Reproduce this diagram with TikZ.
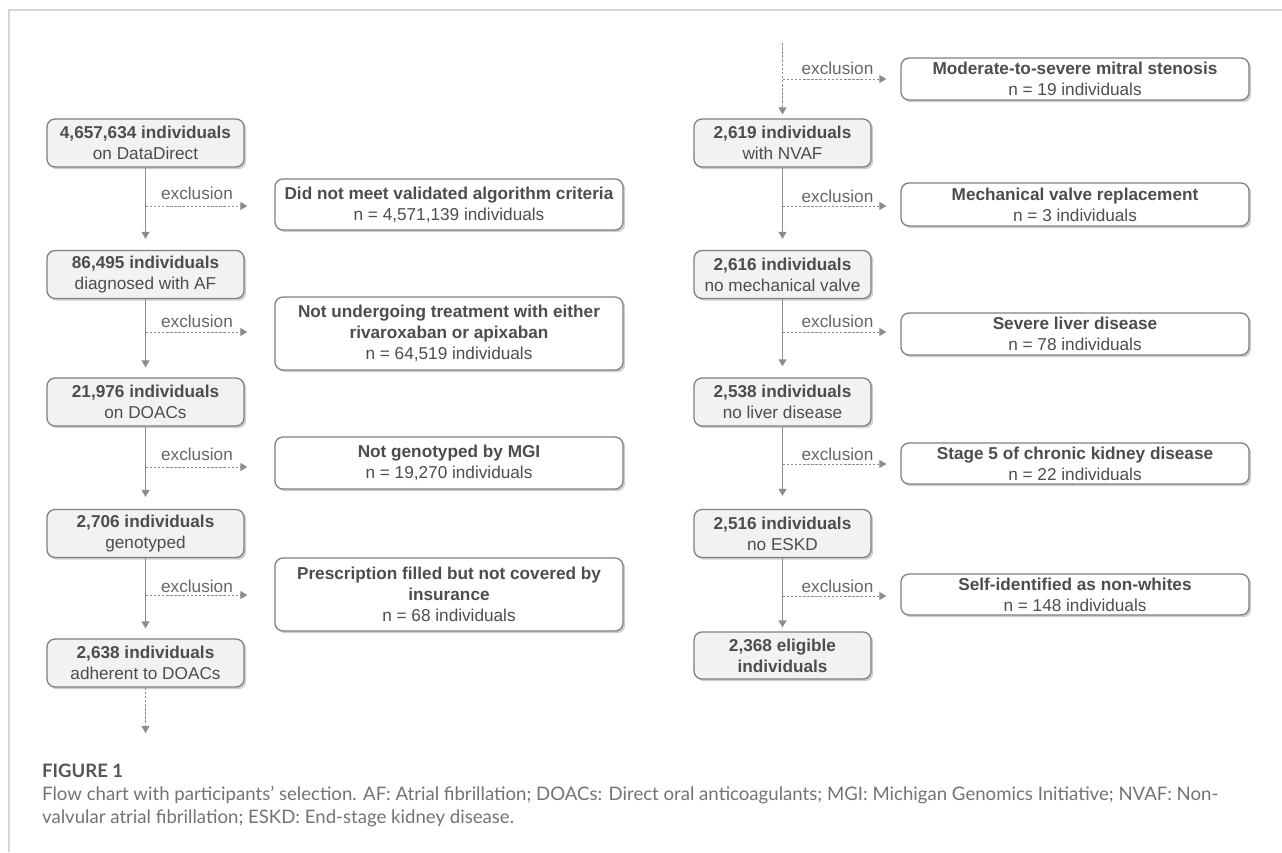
\documentclass[tikz,border=0pt]{standalone}
\usepackage{fontspec}
\setmainfont{Liberation Sans}
\newfontfamily\capfont{Lato}
\usetikzlibrary{arrows.meta,shadows}
\definecolor{boxline}{HTML}{808080}
\definecolor{boxfill}{HTML}{F2F2F2}
\definecolor{txt}{HTML}{4D4D4D}
\definecolor{lbl}{HTML}{666666}
\definecolor{arr}{HTML}{8C8C8C}
\definecolor{framec}{HTML}{D6D6D6}
\definecolor{captxt}{HTML}{737373}
\definecolor{capttl}{HTML}{555555}
\newsavebox\capboxa
\begin{document}
\sbox\capboxa{\capfont\fontsize{16}{16}\selectfont\color{captxt}Flow chart with participants’ selection. AF: Atrial fibrillation; DOACs: Direct oral anticoagulants; MGI: Michigan Genomics Initiative; NVAF: Non-}%
\pgfmathsetmacro\capscale{1176/\the\wd\capboxa}%
\begin{tikzpicture}[x=1pt,y=-1pt,
  every node/.style={font=\fontsize{17.2}{21}\selectfont, text=txt},
  basebox/.style={draw=boxline, line width=1.3pt, rounded corners=8pt, align=center, inner sep=0pt,
    drop shadow={shadow xshift=2.2pt, shadow yshift=-2.2pt, opacity=0.35, fill=black!55}},
  flowbox/.style={basebox, fill=boxfill, minimum height=48pt},
  leftflow/.style={flowbox, minimum width=197pt},
  rightflow/.style={flowbox, minimum width=177pt},
  exbox/.style={basebox, fill=white, minimum width=348pt},
  exlabel/.style={text=lbl, inner sep=0pt},
  flowarrow/.style={draw=arr, line width=1.3pt, -{Triangle[length=7pt,width=8pt]}, shorten >=11pt},
  exarrow/.style={draw=arr, line width=0.9pt, dash pattern=on 2.5pt off 1.6pt, -{Triangle[length=7pt,width=8pt]}},
  capstyle/.style={anchor=west, inner sep=0pt}
]
\useasboundingbox (0,0) rectangle (1282,852);
% frame
\draw[framec, line width=1.5pt] (1282,10) -- (9,10) -- (9,852);

% left column
\node[leftflow] (a1) at (145.5,143) {\textbf{4,657,634 individuals}\\on DataDirect};
\node[leftflow] (a2) at (145.5,274.5) {\textbf{86,495 individuals}\\diagnosed with AF};
\node[leftflow] (a3) at (145.5,402) {\textbf{21,976 individuals}\\on DOACs};
\node[leftflow] (a4) at (145.5,533.5) {\textbf{2,706 individuals}\\genotyped};
\node[leftflow] (a5) at (145.5,663) {\textbf{2,638 individuals}\\adherent to DOACs};

\node[exbox, minimum height=51pt] (e1) at (449,204.5) {\textbf{Did not meet validated algorithm criteria}\\n = 4,571,139 individuals};
\node[exbox, minimum height=73pt] (e2) at (449,333.5) {\textbf{Not undergoing treatment with either}\\\textbf{rivaroxaban or apixaban}\\n = 64,519 individuals};
\node[exbox, minimum height=52pt] (e3) at (449,463) {\textbf{Not genotyped by MGI}\\n = 19,270 individuals};
\node[exbox, minimum height=73pt] (e4) at (449,594.5) {\textbf{Prescription filled but not covered by}\\\textbf{insurance}\\n = 68 individuals};

\draw[flowarrow] (a1) -- (a2);
\draw[flowarrow, shorten >=10pt] (a2) -- (a3);
\draw[flowarrow, shorten >=12pt] (a3) -- (a4);
\draw[flowarrow, shorten >=10pt] (a4) -- (a5);

\coordinate (j1) at (145.5,206);
\coordinate (j2) at (145.5,332);
\coordinate (j3) at (145.5,467);
\coordinate (j4) at (145.5,595);
\draw[exarrow, shorten >=27pt] (j1) -- (j1 -| e1.west);
\draw[exarrow, shorten >=27pt] (j2) -- (j2 -| e2.west);
\draw[exarrow, shorten >=27pt] (j3) -- (j3 -| e3.west);
\draw[exarrow, shorten >=27pt] (j4) -- (j4 -| e4.west);
\node[exlabel] (l1) at (197,193) {exclusion};
\node[exlabel] (l2) at (197,321) {exclusion};
\node[exlabel] (l3) at (197,454) {exclusion};
\node[exlabel] (l4) at (197,586) {exclusion};

\coordinate (bot) at (145.5,733);
\draw[exarrow] (a5) -- (bot);

% right column
\node[rightflow] (b1) at (782.5,143) {\textbf{2,619 individuals}\\with NVAF};
\node[rightflow] (b2) at (782.5,274.5) {\textbf{2,616 individuals}\\no mechanical valve};
\node[rightflow] (b3) at (782.5,402) {\textbf{2,538 individuals}\\no liver disease};
\node[rightflow] (b4) at (782.5,533.5) {\textbf{2,516 individuals}\\no ESKD};
\node[rightflow, minimum height=47pt] (b5) at (782.5,655.5) {\textbf{2,368 eligible}\\\textbf{individuals}};

\node[exbox, minimum height=42pt] (e5) at (1075,79) {\textbf{Moderate-to-severe mitral stenosis}\\n = 19 individuals};
\node[exbox, minimum height=43pt] (e6) at (1075,204.5) {\textbf{Mechanical valve replacement}\\n = 3 individuals};
\node[exbox, minimum height=42pt] (e7) at (1075,334) {\textbf{Severe liver disease}\\n = 78 individuals};
\node[exbox, minimum height=41pt] (e8) at (1075,463.5) {\textbf{Stage 5 of chronic kidney disease}\\n = 22 individuals};
\node[exbox, minimum height=41pt] (e9) at (1075,594.5) {\textbf{Self-identified as non-whites}\\n = 148 individuals};

\coordinate (top) at (782.5,43);
\draw[exarrow, shorten >=4pt] (top) -- (b1);
\draw[flowarrow] (b1) -- (b2);
\draw[flowarrow] (b2) -- (b3);
\draw[flowarrow, shorten >=13pt] (b3) -- (b4);
\draw[flowarrow, shorten >=4pt] (b4) -- (b5);

\coordinate (k1) at (782.5,79);
\coordinate (k2) at (782.5,206);
\coordinate (k3) at (782.5,332);
\coordinate (k4) at (782.5,464);
\coordinate (k5) at (782.5,596);
\draw[exarrow, shorten >=14pt] (k1) -- (k1 -| e5.west);
\draw[exarrow, shorten >=14pt] (k2) -- (k2 -| e6.west);
\draw[exarrow, shorten >=14pt] (k3) -- (k3 -| e7.west);
\draw[exarrow, shorten >=14pt] (k4) -- (k4 -| e8.west);
\draw[exarrow, shorten >=14pt] (k5) -- (k5 -| e9.west);
\node[exlabel] (m1) at (837.5,68) {exclusion};
\node[exlabel] (m2) at (837.5,196) {exclusion};
\node[exlabel] (m3) at (837.5,321) {exclusion};
\node[exlabel] (m4) at (837.5,454) {exclusion};
\node[exlabel] (m5) at (837.5,586) {exclusion};

% caption
\node[capstyle] (fig) at (42,771) {\resizebox{81pt}{!}{\capfont\bfseries\color{capttl}FIGURE 1}};
\node[capstyle] (cap1) at (42,795) {\scalebox{\capscale}{\usebox\capboxa}};
\node[capstyle] (cap2) at (42,818) {\scalebox{\capscale}{\capfont\fontsize{16}{16}\selectfont\color{captxt}valvular atrial fibrillation; ESKD: End-stage kidney disease.}};
\end{tikzpicture}
\end{document}
